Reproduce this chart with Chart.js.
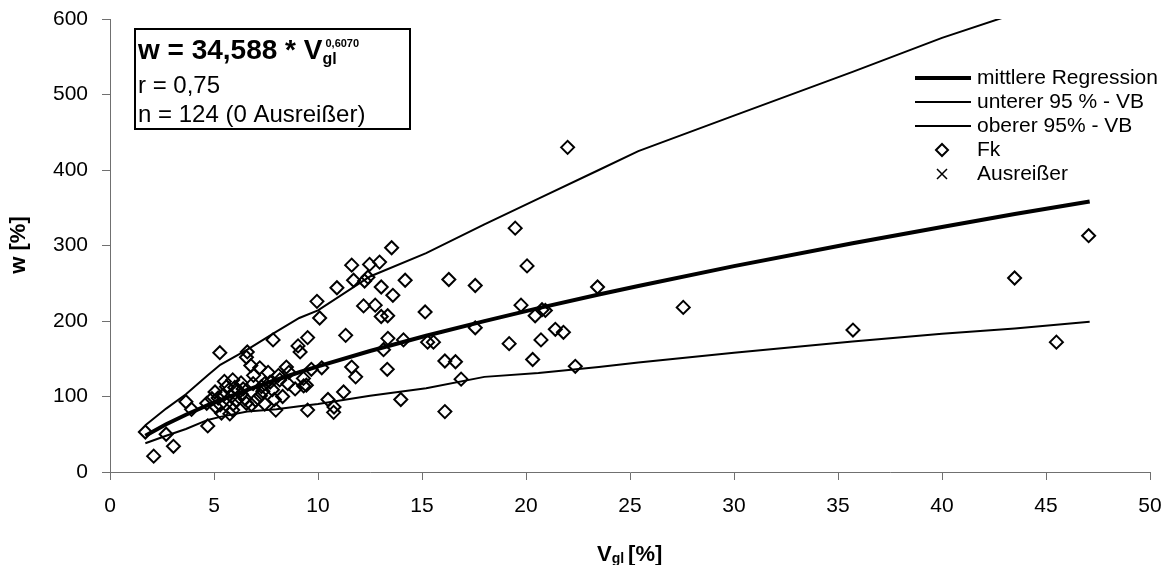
<!DOCTYPE html>
<html>
<head>
<meta charset="utf-8">
<script src="https://cdn.jsdelivr.net/npm/chart.js@4.4.0/dist/chart.umd.min.js"></script>
<style>
  html, body { margin: 0; padding: 0; background: #fff; overflow: hidden; }
  canvas { display: block; }
</style>
</head>
<body>
<canvas id="chart" width="1170" height="565"></canvas>
<script>
// Fk measurements: V_gl [%] and w [%]
const fkV = [1.7, 2.7, 3.05, 2.1, 3.65, 3.92, 4.7, 4.65, 5.05, 5.28, 5.3, 5.36, 5.5, 5.9, 5.45, 5.84, 5.92, 5.9, 5.76, 6.08,
  6.32, 6.4, 6.6, 6.56, 6.77, 6.88, 6.8, 6.56, 7.2, 7.23, 7.28, 7.44, 7.44, 7.6, 7.81, 7.84, 7.97, 8.16, 8.3, 8.48,
  8.55, 9.04, 9.14, 9.5, 9.44, 9.31, 9.5, 9.68, 9.95, 10.08, 10.18, 10.48, 10.77, 10.75, 10.91, 11.23, 11.33, 11.62, 11.71, 11.62,
  11.81, 12.19, 12.24, 12.4, 12.48, 12.75, 12.96, 13.04, 13.04, 13.35, 13.54, 13.6, 13.36, 13.15, 13.33, 13.98, 14.11, 14.19, 15.15, 15.27,
  15.55, 16.1, 16.61, 16.1, 16.29, 16.88, 17.56, 17.56, 19.19, 19.48, 19.76, 20.05, 20.32, 20.44, 20.72, 20.77, 20.93, 21.41, 21.8, 22.0,
  22.37, 23.44, 27.56, 35.72, 43.49, 45.5, 47.05,
  5.6, 6.15, 6.5, 7.0, 7.35, 7.7, 8.1, 8.9, 5.2, 6.9, 4.9, 5.1, 6.3, 7.9, 9.3, 8.6, 6.0];
const fkW = [53, 50, 34, 21, 93, 83, 61, 91, 106, 158, 89, 78, 120, 122, 102, 100, 90, 82, 77, 95,
  103, 110, 159, 152, 141, 117, 89, 91, 138, 101, 113, 90, 117, 132, 109, 175, 82, 122, 100, 139,
  117, 167, 159, 178, 115, 114, 82, 136, 226, 204, 138, 96, 86, 79, 244, 106, 181, 274, 254, 139,
  126, 220, 253, 258, 275, 221, 278, 245, 206, 207, 297, 234, 177, 162, 136, 96, 175, 254, 212, 172,
  172, 147, 146, 80, 255, 123, 247, 191, 170, 323, 221, 273, 149, 207, 175, 215, 214, 189, 185, 430,
  140, 245, 218, 188, 257, 172, 313,
  113, 108, 97, 95, 107, 119, 128, 110, 98, 128, 97, 86, 118, 96, 124, 132, 112];

// regression curve and 95 % band
const curveV = [1.7, 2.7, 3.65, 4.7, 5.3, 6.6, 8, 9.1, 10, 12.5, 15.2, 18, 20.6, 23.5, 25.4, 30, 35.7, 40, 43.5, 47.1];
const meanW = [47.9, 63.2, 75.9, 88.5, 95.2, 108.7, 122.2, 132.1, 139.9, 160.3, 180.4, 199.9, 217.0, 235.1, 246.3, 272.7, 303.0, 324.6, 341.6, 358.3];
const upperW = [62, 84, 103, 128, 142, 162, 186, 204, 214, 259, 290, 328, 362, 400, 425, 472, 530, 575, 607, 642];
const lowerW = [38, 48, 57, 69, 73, 80, 83, 87, 90, 101, 111, 126, 131, 139, 145, 158, 173, 183, 190, 199];

const outlierV = [];
const outlierW = [];

const xTicks = [0, 5, 10, 15, 20, 25, 30, 35, 40, 45, 50];
const yTicks = [0, 100, 200, 300, 400, 500, 600];

const legendLabels = ['mittlere Regression', 'unterer 95 % - VB', 'oberer 95% - VB', 'Fk', 'Ausreißer'];

function pts(xs, ys) {
  return xs.map(function(v, i) { return { x: v, y: ys[i] }; });
}

const FONT = '"Liberation Sans", Arial, sans-serif';

const overlay = {
  id: 'overlay',
  afterDraw: function(chart) {
    const c = chart.ctx;
    c.save();
    c.fillStyle = '#000';
    c.strokeStyle = '#000';

    // equation box
    c.lineWidth = 2;
    c.strokeRect(135, 29, 275, 100);
    c.textAlign = 'left';
    c.textBaseline = 'alphabetic';
    c.font = 'bold 28px ' + FONT;
    const eq = 'w = 34,588 * V';
    c.fillText(eq, 138, 59);
    const ex = 138 + c.measureText(eq).width;
    c.font = 'bold 16px ' + FONT;
    c.fillText('gl', ex, 64);
    c.font = 'bold 11px ' + FONT;
    c.fillText('0,6070', ex + 3, 47);
    c.font = '24px ' + FONT;
    c.fillText('r = 0,75', 138, 93);
    c.fillText('n = 124 (0 Ausreißer)', 138, 122);

    // legend
    const ly = [78, 102, 126, 150, 174];
    c.textBaseline = 'middle';
    c.font = '21px ' + FONT;
    c.lineCap = 'butt';
    for (let i = 0; i < 3; i++) {
      c.lineWidth = i === 0 ? 4 : 2;
      c.beginPath();
      c.moveTo(915, ly[i]);
      c.lineTo(971, ly[i]);
      c.stroke();
    }
    c.lineWidth = 2;
    c.beginPath();
    c.moveTo(936, ly[3]); c.lineTo(942, ly[3] - 6); c.lineTo(948, ly[3]); c.lineTo(942, ly[3] + 6);
    c.closePath();
    c.stroke();
    c.lineWidth = 1.5;
    c.beginPath();
    c.moveTo(937, ly[4] - 5); c.lineTo(947, ly[4] + 5);
    c.moveTo(947, ly[4] - 5); c.lineTo(937, ly[4] + 5);
    c.stroke();
    legendLabels.forEach(function(t, i) { c.fillText(t, 977, ly[i]); });

    // x axis title with subscript
    c.textBaseline = 'alphabetic';
    c.font = 'bold 22px ' + FONT;
    c.fillText('V', 597, 561);
    let tx = 597 + c.measureText('V').width;
    c.font = 'bold 14px ' + FONT;
    c.fillText('gl', tx, 563);
    tx += c.measureText('gl').width + 4;
    c.font = 'bold 22px ' + FONT;
    c.fillText('[%]', tx, 561);

    // y axis title
    c.translate(19, 245);
    c.rotate(-Math.PI / 2);
    c.textAlign = 'center';
    c.textBaseline = 'middle';
    c.font = 'bold 22px ' + FONT;
    c.fillText('w [%]', 0, 0);
    c.restore();
  }
};

const axisColor = '#707070';

new Chart(document.getElementById('chart'), {
  type: 'scatter',
  data: {
    datasets: [{
      label: legendLabels[0],
      data: pts(curveV, meanW),
      showLine: true,
      borderColor: '#000',
      borderWidth: 4,
      pointRadius: 0,
      tension: 0
    }, {
      label: legendLabels[1],
      data: pts(curveV, lowerW),
      showLine: true,
      borderColor: '#000',
      borderWidth: 2,
      pointRadius: 0,
      tension: 0
    }, {
      label: legendLabels[2],
      data: pts(curveV, upperW),
      showLine: true,
      borderColor: '#000',
      borderWidth: 2,
      pointRadius: 0,
      tension: 0
    }, {
      label: legendLabels[3],
      data: pts(fkV, fkW),
      pointStyle: 'rectRot',
      pointRadius: 6.5,
      pointBorderWidth: 2,
      pointBorderColor: '#000',
      pointBackgroundColor: 'rgba(0,0,0,0)'
    }, {
      label: legendLabels[4],
      data: pts(outlierV, outlierW),
      pointStyle: 'crossRot',
      pointRadius: 6,
      pointBorderColor: '#000'
    }]
  },
  options: {
    responsive: false,
    animation: false,
    devicePixelRatio: 1,
    events: [],
    layout: {
      autoPadding: false,
      padding: { left: 0, top: 19, right: 20, bottom: 0 }
    },
    plugins: {
      legend: { display: false },
      tooltip: { enabled: false }
    },
    scales: {
      x: {
        type: 'linear',
        min: 0,
        max: 50,
        afterFit: function(s) {
          s.height = 93;
          s.paddingLeft = 0;
          s.paddingRight = 0;
        },
        afterBuildTicks: function(s) { s.ticks = xTicks.map(function(v) { return { value: v }; }); },
        ticks: {
          color: '#000',
          font: { family: FONT, size: 21 },
          padding: 14,
          maxRotation: 0
        },
        grid: {
          drawOnChartArea: false,
          drawTicks: true,
          tickLength: 8,
          color: axisColor,
          lineWidth: 1
        },
        border: { color: axisColor, width: 1 }
      },
      y: {
        type: 'linear',
        min: 0,
        max: 600,
        afterFit: function(s) {
          s.width = 110;
          s.paddingTop = 0;
          s.paddingBottom = 0;
        },
        afterBuildTicks: function(s) { s.ticks = yTicks.map(function(v) { return { value: v }; }); },
        ticks: {
          color: '#000',
          font: { family: FONT, size: 21 },
          padding: 14
        },
        grid: {
          drawOnChartArea: false,
          drawTicks: true,
          tickLength: 8,
          color: axisColor,
          lineWidth: 1
        },
        border: { color: axisColor, width: 1 }
      }
    }
  },
  plugins: [overlay]
});
</script>
</body>
</html>
